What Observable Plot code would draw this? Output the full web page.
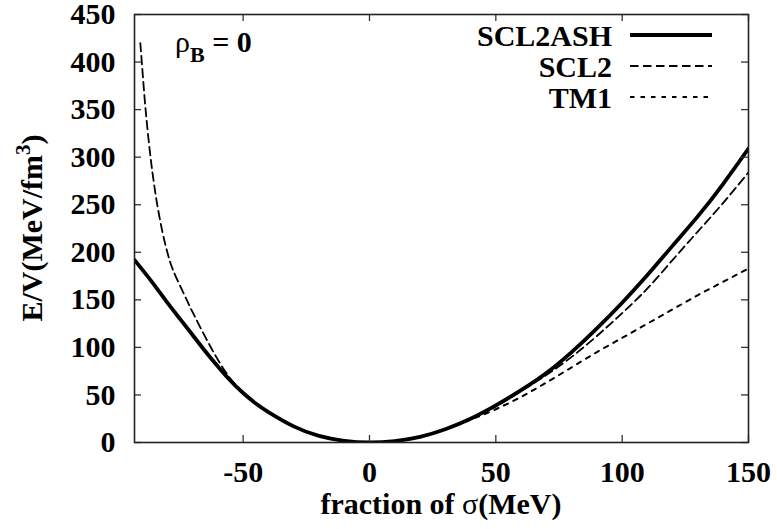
<!DOCTYPE html>
<html>
<head>
<meta charset="utf-8">
<script src="https://cdn.jsdelivr.net/npm/d3@7"></script>
<script src="https://cdn.jsdelivr.net/npm/@observablehq/plot@0.6"></script>
<style>
  html, body { margin: 0; padding: 0; background: #fff; }
  #chart { width: 777px; height: 529px; }
</style>
</head>
<body>
<div id="chart"></div>
<script>
// ---- data ----
const sigmaGrid = [-93, -90, -85, -80, -75, -70, -65, -60, -55, -50, -45, -40, -30, -20, -10, 0, 10, 20, 30, 40, 50, 60, 70, 80, 90, 100, 110, 120, 130, 140, 150];
const scl2ashE  = [192, 182, 165, 147, 130, 113, 96, 80, 65, 52, 41, 32, 17, 7, 1.8, 0, 1.5, 6, 14, 25, 39, 55, 73, 95, 120, 147, 176, 207, 238, 272, 309];
const tm1E      = [192, 182, 165, 147, 130, 113, 96, 80, 65, 52, 41, 32, 17, 7, 1.8, 0, 1.5, 6, 14, 24, 35, 48, 63, 79, 95, 110, 125, 140, 155, 169, 183];

const scl2Sigma = [-90.7, -90, -89, -88, -87, -86, -85, -84, -82, -80, -78, -75, -72, -70, -65, -60, -55, -50, -45, -40, -30, -20, -10, 0, 10, 20, 30, 40, 50, 60, 70, 80, 90, 100, 110, 120, 130, 140, 150];
const scl2E     = [420, 396, 362, 333, 308, 286, 267, 250, 222, 200, 183, 165, 148, 137, 111, 87, 67, 53, 41, 32, 17, 7, 1.8, 0, 1.5, 6, 14, 25, 38, 54, 71, 90, 112, 136, 162, 192, 222, 252, 284];

const seriesNames = ["SCL2ASH", "SCL2", "TM1"];
const xTicks = [-50, 0, 50, 100, 150];
const yTicks = [0, 50, 100, 150, 200, 250, 300, 350, 400, 450];
const xDomain = [-93, 150];
const yDomain = [0, 450];

// ---- styles per series ----
const seriesStyle = {
  SCL2ASH: {strokeWidth: 3.8, strokeDasharray: null},
  SCL2:    {strokeWidth: 1.8, strokeDasharray: "8.5,4.5"},
  TM1:     {strokeWidth: 2.0, strokeDasharray: "4.5,6"}
};

const rows = (xs, ys) => xs.map((x, i) => ({x, y: ys[i]}));
const ashRows = rows(sigmaGrid, scl2ashE);
const scl2Rows = rows(scl2Sigma, scl2E);
const tm1Rows = rows(sigmaGrid, tm1E);

const FONT = '"Liberation Serif", "DejaVu Serif", serif';
const W = 777, H = 529, mL = 134, mR = 29, mT = 14, mB = 87;
const frameW = W - mL - mR, frameH = H - mT - mB;
const tickLen = 7;

const chart = Plot.plot({
  width: W, height: H,
  marginLeft: mL, marginRight: mR, marginTop: mT, marginBottom: mB,
  x: {domain: xDomain},
  y: {domain: yDomain},
  style: {fontFamily: FONT, fontWeight: "bold", fontSize: "30px", background: "#fff", color: "#000"},
  marks: [
    Plot.line(tm1Rows, {x: "x", y: "y", stroke: "#000", strokeWidth: seriesStyle.TM1.strokeWidth, strokeDasharray: seriesStyle.TM1.strokeDasharray, curve: "natural", clip: true}),
    Plot.line(scl2Rows, {x: "x", y: "y", stroke: "#000", strokeWidth: seriesStyle.SCL2.strokeWidth, strokeDasharray: seriesStyle.SCL2.strokeDasharray, curve: "natural", clip: true}),
    Plot.line(ashRows, {x: "x", y: "y", stroke: "#000", strokeWidth: seriesStyle.SCL2ASH.strokeWidth, curve: "natural", clip: true}),
    // inward ticks on all four sides
    Plot.tickX(xTicks, {x: d => d, insetTop: frameH - tickLen, stroke: "#333", strokeWidth: 1.3}),
    Plot.tickX(xTicks, {x: d => d, insetBottom: frameH - tickLen, stroke: "#333", strokeWidth: 1.3}),
    Plot.tickY(yTicks, {y: d => d, insetRight: frameW - tickLen, stroke: "#333", strokeWidth: 1.3}),
    Plot.tickY(yTicks, {y: d => d, insetLeft: frameW - tickLen, stroke: "#333", strokeWidth: 1.3}),
    Plot.frame({stroke: "#222", strokeWidth: 1.6}),
    Plot.axisX(xTicks, {tickSize: 0, tickPadding: 18, label: null, tickFormat: d => String(d), fontSize: 30, fontWeight: "bold", fontFamily: FONT}),
    Plot.axisY(yTicks, {tickSize: 0, tickPadding: 19, label: null, tickFormat: d => String(d), fontSize: 30, fontWeight: "bold", fontFamily: FONT})
  ]
});

document.getElementById("chart").appendChild(chart);
const svg = d3.select(chart);

// x-axis title
const xt = svg.append("text")
  .attr("x", mL + frameW / 2).attr("y", 514)
  .attr("text-anchor", "middle")
  .attr("font-family", FONT).attr("font-weight", "bold").attr("font-size", 30).attr("fill", "#000");
xt.append("tspan").text("fraction of ");
xt.append("tspan").attr("font-weight", "normal").text("σ");
xt.append("tspan").text("(MeV)");

// y-axis title (rotated)
const yt = svg.append("text")
  .attr("transform", `translate(42,${mT + frameH / 2}) rotate(-90)`)
  .attr("text-anchor", "middle")
  .attr("font-family", FONT).attr("font-weight", "bold").attr("font-size", 30).attr("fill", "#000");
yt.append("tspan").text("E/V(MeV/fm");
yt.append("tspan").attr("font-size", 21).attr("dy", -12).text("3");
yt.append("tspan").attr("dy", 12).text(")");

// annotation rho_B = 0
const ann = svg.append("text")
  .attr("x", mL + 41).attr("y", 52)
  .attr("text-anchor", "start")
  .attr("font-family", FONT).attr("font-weight", "bold").attr("font-size", 30).attr("fill", "#000");
ann.append("tspan").attr("font-weight", "normal").text("ρ");
ann.append("tspan").attr("font-size", 22).attr("dy", 10).text("B");
ann.append("tspan").attr("dy", -10).text(" = 0");

// legend (top right, inside frame)
const legX = 612, legLine0 = 630, legLine1 = 712, legBase0 = 46, legStep = 31;
const leg = svg.append("g");
seriesNames.forEach((name, i) => {
  const base = legBase0 + i * legStep;
  leg.append("text")
    .attr("x", legX).attr("y", base)
    .attr("text-anchor", "end")
    .attr("font-family", FONT).attr("font-weight", "bold").attr("font-size", 30).attr("fill", "#000")
    .text(name);
  const st = seriesStyle[name];
  leg.append("line")
    .attr("x1", legLine0).attr("x2", legLine1)
    .attr("y1", base - 11).attr("y2", base - 11)
    .attr("stroke", "#000")
    .attr("stroke-width", st.strokeWidth)
    .attr("stroke-dasharray", st.strokeDasharray);
});
</script>
</body>
</html>
